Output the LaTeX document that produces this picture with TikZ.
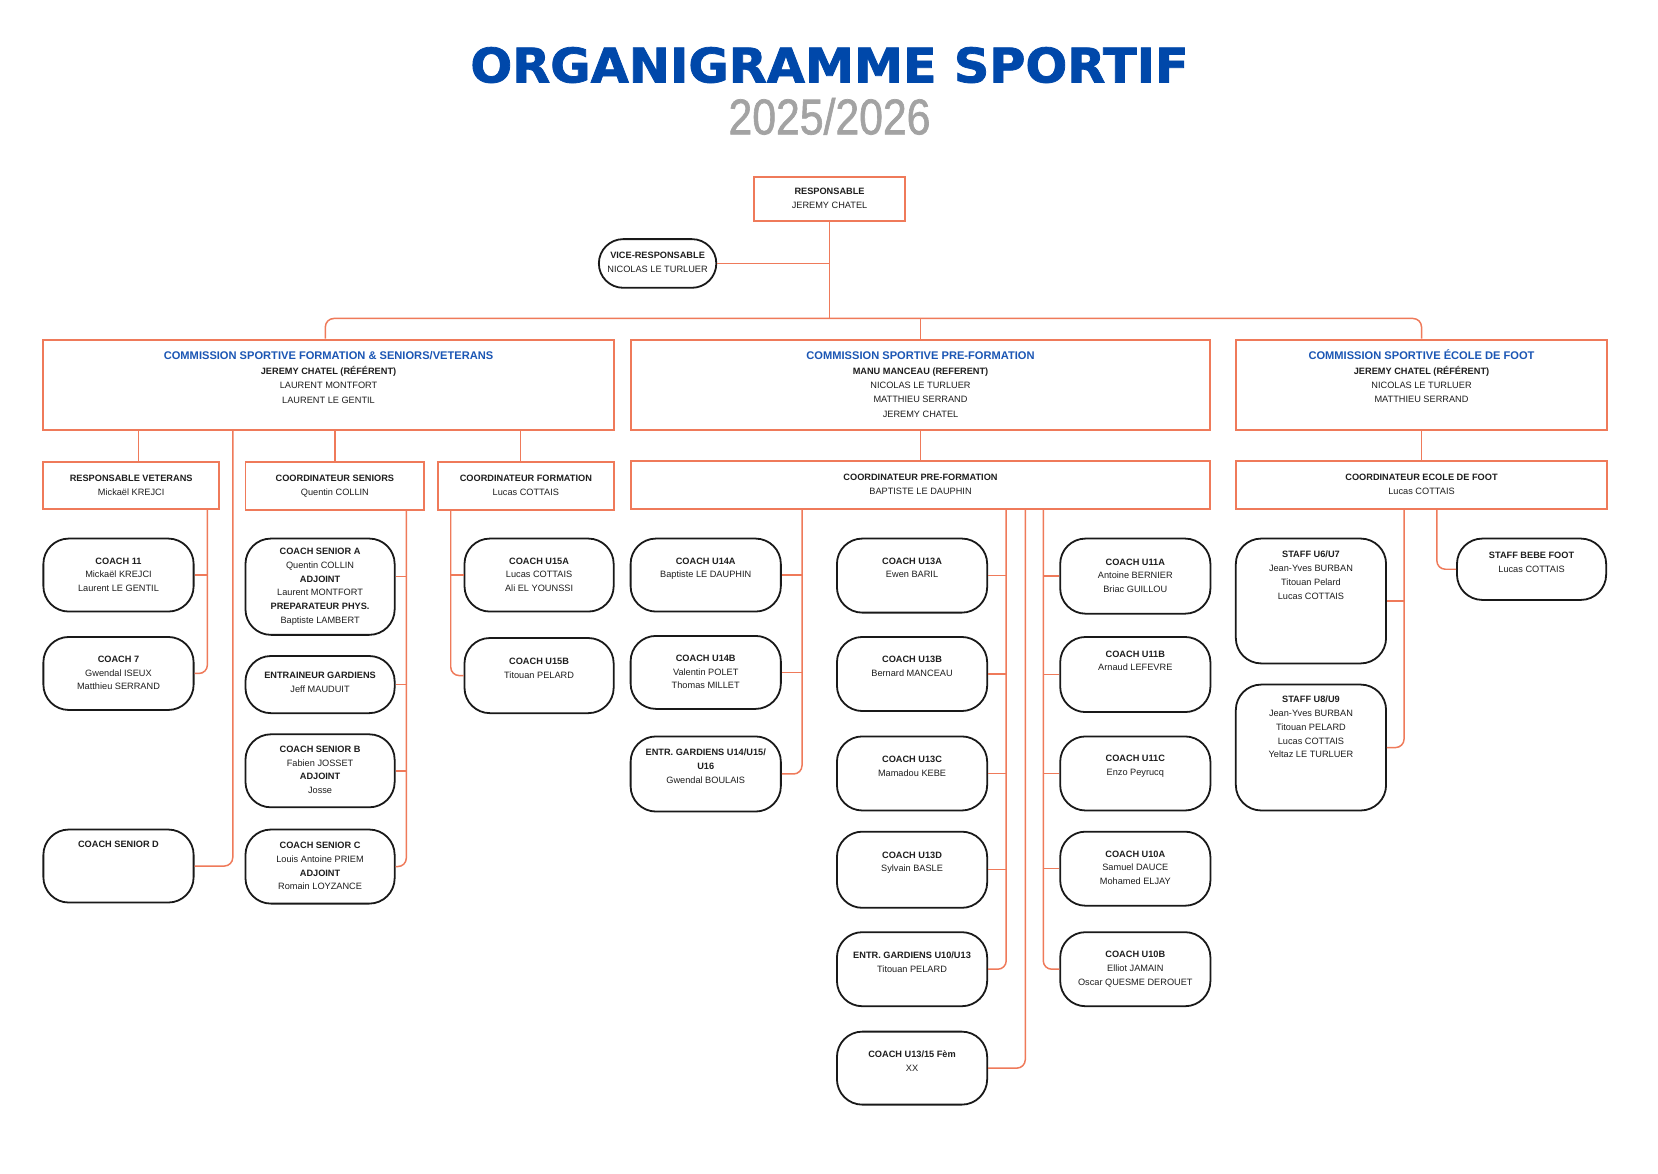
\documentclass[tikz,border=0pt]{standalone}
\usepackage{fontspec}
\setmainfont{Liberation Sans}
\newfontfamily\titlefont{DejaVu Sans}[BoldFeatures={FakeBold=1.6}]
\newfontfamily\yearfont{Liberation Sans}[FakeBold=1.4]
\usetikzlibrary{calc}
\definecolor{orgline}{RGB}{239,122,90}
\definecolor{titleblue}{RGB}{0,72,170}
\definecolor{combl}{RGB}{27,86,180}
\definecolor{yeargray}{RGB}{163,163,163}
\definecolor{txtdark}{RGB}{30,30,30}
\newcommand\comtitle{\fontsize{10.5}{13.5}\selectfont\bfseries\color{combl}}
% box style, text style, name, x1, y1, x2, y2, first line centre y, text
\newcommand\mkbox[9]{%
  \node[#1, minimum width={(#6-#4)*1pt}, minimum height={(#7-#5)*1pt}] (#3) at ({(#4+#6)/2},{(#5+#7)/2}) {};
  \node[#2, anchor=north] (#3-t) at ({(#4+#6)/2},{#8-3.2}) {#9};
}
\tikzset{
  obox/.style={draw=orgline, line width=1.8pt, fill=white, rectangle, inner sep=0pt},
  coach/.style={draw=black!90, line width=1.7pt, rounded corners=24pt, fill=white, rectangle, inner sep=0pt},
  pill/.style={coach, rounded corners=23pt},
  txt/.style={font=\fontsize{8.7}{13}\selectfont, text=txtdark, align=center, inner sep=0pt},
  ctxt/.style={font=\fontsize{8.7}{13.5}\selectfont, text=txtdark, align=center, inner sep=0pt},
  conn/.style={draw=orgline, line width=1.4pt, rounded corners=8pt},
}
\begin{document}
\begin{tikzpicture}[x=1pt,y=-1pt]
\fill[white] (0,0) rectangle (1567,1108.7);
\useasboundingbox (0,0) rectangle (1567,1108.7);

% titles
\node[font=\titlefont\bfseries\fontsize{45}{50}\selectfont, text=titleblue, xscale=1.035, inner sep=0pt] (title) at (784,61.5) {ORGANIGRAMME SPORTIF};
\node[font=\yearfont\fontsize{47.5}{50}\selectfont, text=yeargray, xscale=0.85, inner sep=0pt] (year) at (784,110) {2025/2026};

% top
\mkbox{obox}{txt}{resp}{713}{167}{855}{209}{181}{\textbf{RESPONSABLE}\\JEREMY CHATEL}
\mkbox{pill}{txt}{vice}{566}{226}{677}{272}{241}{\textbf{VICE-RESPONSABLE}\\NICOLAS LE TURLUER}

% commissions
\mkbox{obox}{ctxt}{c1}{41}{321}{580}{406}{335}{{\comtitle COMMISSION SPORTIVE FORMATION \& SENIORS/VETERANS}\\[1pt]\textbf{JEREMY CHATEL (RÉFÉRENT)}\\LAURENT MONTFORT\\LAURENT LE GENTIL}
\mkbox{obox}{ctxt}{c2}{596}{321}{1144}{406}{335}{{\comtitle COMMISSION SPORTIVE PRE-FORMATION}\\[1pt]\textbf{MANU MANCEAU (REFERENT)}\\NICOLAS LE TURLUER\\MATTHIEU SERRAND\\JEREMY CHATEL}
\mkbox{obox}{ctxt}{c3}{1168}{321}{1519}{406}{333}{{\comtitle COMMISSION SPORTIVE ÉCOLE DE FOOT}\\[1pt]\textbf{JEREMY CHATEL (RÉFÉRENT)}\\NICOLAS LE TURLUER\\MATTHIEU SERRAND}

% coordinators
\mkbox{obox}{txt}{vet}{41}{437}{207}{481}{452}{\textbf{RESPONSABLE VETERANS}\\Mickaël KREJCI}
\mkbox{obox}{txt}{csen}{232}{437}{401}{482}{452}{\textbf{COORDINATEUR SENIORS}\\Quentin COLLIN}
\mkbox{obox}{txt}{cfor}{414}{437}{580}{482}{452}{\textbf{COORDINATEUR FORMATION}\\Lucas COTTAIS}
\mkbox{obox}{txt}{cpre}{596}{436}{1144}{481}{451}{\textbf{COORDINATEUR PRE-FORMATION}\\BAPTISTE LE DAUPHIN}
\mkbox{obox}{txt}{cefo}{1168}{436}{1519}{481}{451}{\textbf{COORDINATEUR ECOLE DE FOOT}\\Lucas COTTAIS}

% veterans / seniors D
\mkbox{coach}{txt}{k11}{41}{509}{183}{578}{530}{\textbf{COACH 11}\\Mickaël KREJCI\\Laurent LE GENTIL}
\mkbox{coach}{txt}{k7}{41}{602}{183}{671}{623}{\textbf{COACH 7}\\Gwendal ISEUX\\Matthieu SERRAND}
\mkbox{coach}{txt}{ksd}{41}{784}{183}{853}{798}{\textbf{COACH SENIOR D}}

% seniors
\mkbox{coach}{txt}{ksa}{232}{509}{373}{600}{521}{\textbf{COACH SENIOR A}\\Quentin COLLIN\\\textbf{ADJOINT}\\Laurent MONTFORT\\\textbf{PREPARATEUR PHYS.}\\Baptiste LAMBERT}
\mkbox{coach}{txt}{keg}{232}{620}{373}{674}{638}{\textbf{ENTRAINEUR GARDIENS}\\Jeff MAUDUIT}
\mkbox{coach}{txt}{ksb}{232}{694}{373}{763}{708}{\textbf{COACH SENIOR B}\\Fabien JOSSET\\\textbf{ADJOINT}\\Josse}
\mkbox{coach}{txt}{ksc}{232}{784}{373}{854}{799}{\textbf{COACH SENIOR C}\\Louis Antoine PRIEM\\\textbf{ADJOINT}\\Romain LOYZANCE}

% formation
\mkbox{coach}{txt}{ku15a}{439}{509}{580}{578}{530}{\textbf{COACH U15A}\\Lucas COTTAIS\\Ali EL YOUNSSI}
\mkbox{coach}{txt}{ku15b}{439}{603}{580}{674}{625}{\textbf{COACH U15B}\\Titouan PELARD}

% pre-formation
\mkbox{coach}{txt}{ku14a}{596}{509}{738}{578}{530}{\textbf{COACH U14A}\\Baptiste LE DAUPHIN}
\mkbox{coach}{txt}{ku14b}{596}{601}{738}{670}{622}{\textbf{COACH U14B}\\Valentin POLET\\Thomas MILLET}
\mkbox{coach}{txt}{kg14}{596}{696}{738}{767}{711}{\textbf{ENTR. GARDIENS U14/U15/}\\\textbf{U16}\\Gwendal BOULAIS}
\mkbox{coach}{txt}{ku13a}{791}{509}{933}{579}{530}{\textbf{COACH U13A}\\Ewen BARIL}
\mkbox{coach}{txt}{ku13b}{791}{602}{933}{672}{623}{\textbf{COACH U13B}\\Bernard MANCEAU}
\mkbox{coach}{txt}{ku13c}{791}{696}{933}{766}{718}{\textbf{COACH U13C}\\Mamadou KEBE}
\mkbox{coach}{txt}{ku13d}{791}{786}{933}{858}{808}{\textbf{COACH U13D}\\Sylvain BASLE}
\mkbox{coach}{txt}{kg10}{791}{881}{933}{951}{903}{\textbf{ENTR. GARDIENS U10/U13}\\Titouan PELARD}
\mkbox{coach}{txt}{kfem}{791}{975}{933}{1044}{996}{\textbf{COACH U13/15 Fèm}\\XX}
\mkbox{coach}{txt}{ku11a}{1002}{509}{1144}{580}{531}{\textbf{COACH U11A}\\Antoine BERNIER\\Briac GUILLOU}
\mkbox{coach}{txt}{ku11b}{1002}{602}{1144}{673}{618}{\textbf{COACH U11B}\\Arnaud LEFEVRE}
\mkbox{coach}{txt}{ku11c}{1002}{696}{1144}{766}{717}{\textbf{COACH U11C}\\Enzo Peyrucq}
\mkbox{coach}{txt}{ku10a}{1002}{786}{1144}{856}{807}{\textbf{COACH U10A}\\Samuel DAUCE\\Mohamed ELJAY}
\mkbox{coach}{txt}{ku10b}{1002}{881}{1144}{951}{902}{\textbf{COACH U10B}\\Elliot JAMAIN\\Oscar QUESME DEROUET}

% ecole de foot
\mkbox{coach}{txt}{s67}{1168}{509}{1310}{627}{524}{\textbf{STAFF U6/U7}\\Jean-Yves BURBAN\\Titouan Pelard\\Lucas COTTAIS}
\mkbox{coach}{txt}{s89}{1168}{647}{1310}{766}{661}{\textbf{STAFF U8/U9}\\Jean-Yves BURBAN\\Titouan PELARD\\Lucas COTTAIS\\Yeltaz LE TURLUER}
\mkbox{coach}{txt}{sbb}{1377}{509}{1518}{567}{525}{\textbf{STAFF BEBE FOOT}\\Lucas COTTAIS}

% bus coordinates
\coordinate (hub) at (784,301);
\coordinate (sdbus) at (220,406);
\coordinate (vbus) at (196,481);
\coordinate (sbus) at (384,482);
\coordinate (fbus) at (426,482);
\coordinate (pbusa) at (758,481);
\coordinate (pbusb) at (951,481);
\coordinate (pbusc) at (969,481);
\coordinate (pbusd) at (986,481);
\coordinate (ebusa) at (1327,481);
\coordinate (ebusb) at (1358,481);

% connectors
\draw[conn] (resp.south) -- (hub);
\draw[conn] (vice.east) -- (vice.east -| resp.south);
\draw[conn] ([xshift=-3pt]c1.north) |- (hub) -| (c3.north);
\draw[conn] (hub -| c2.north) -- (c2.north);

\draw[conn] ([xshift=7pt]vet.north |- c1.south) -- ([xshift=7pt]vet.north);
\draw[conn] (csen.north |- c1.south) -- (csen.north);
\draw[conn] ([xshift=-5pt]cfor.north |- c1.south) -- ([xshift=-5pt]cfor.north);
\draw[conn] (c2.south) -- (cpre.north);
\draw[conn] (c3.south) -- (cefo.north);

\draw[conn] (sdbus) |- (ksd.east);
\draw[conn] (vbus) |- (k7.east);
\draw[conn] (k11.east) -- (k11.east -| vbus);

\draw[conn] (sbus) |- (ksc.east);
\draw[conn] ([yshift=9.5pt]ksa.east) -- ([yshift=9.5pt]ksa.east -| sbus);
\draw[conn] (keg.east) -- (keg.east -| sbus);
\draw[conn] (ksb.east) -- (ksb.east -| sbus);

\draw[conn] (fbus) |- (ku15b.west);
\draw[conn] (ku15a.west) -- (ku15a.west -| fbus);

\draw[conn] (pbusa) |- (kg14.east);
\draw[conn] (ku14a.east) -- (ku14a.east -| pbusa);
\draw[conn] (ku14b.east) -- (ku14b.east -| pbusa);

\draw[conn] (pbusb) |- (kg10.east);
\draw[conn] (ku13a.east) -- (ku13a.east -| pbusb);
\draw[conn] (ku13b.east) -- (ku13b.east -| pbusb);
\draw[conn] (ku13c.east) -- (ku13c.east -| pbusb);
\draw[conn] (ku13d.east) -- (ku13d.east -| pbusb);

\draw[conn] (pbusc) |- (kfem.east);

\draw[conn] (pbusd) |- (ku10b.west);
\draw[conn] (ku11a.west) -- (ku11a.west -| pbusd);
\draw[conn] (ku11b.west) -- (ku11b.west -| pbusd);
\draw[conn] (ku11c.west) -- (ku11c.west -| pbusd);
\draw[conn] (ku10a.west) -- (ku10a.west -| pbusd);

\draw[conn] (ebusa) |- (s89.east);
\draw[conn] (s67.east) -- (s67.east -| ebusa);
\draw[conn] (ebusb) |- (sbb.west);
\end{tikzpicture}
\end{document}
